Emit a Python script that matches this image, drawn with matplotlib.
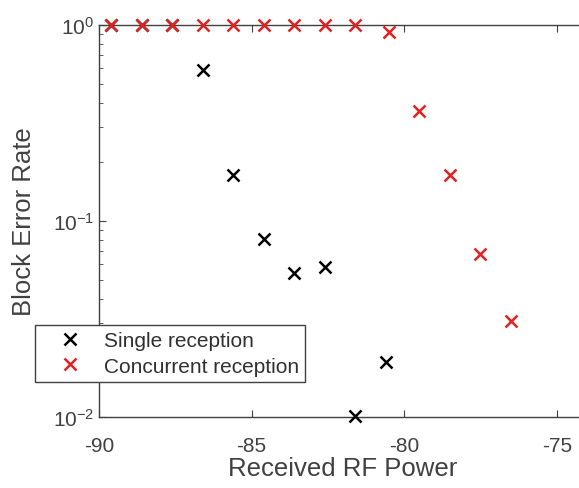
import numpy as np
import matplotlib.pyplot as plt

# Block error rate vs received power
power_single = [-89.6, -88.6, -87.6, -86.6, -85.6, -84.6, -83.6, -82.6, -81.6, -80.6]
bler_single = [1.0, 1.0, 1.0, 0.59, 0.172, 0.081, 0.054, 0.058, 0.0101, 0.019]

power_conc = [-89.6, -88.6, -87.6, -86.6, -85.6, -84.6, -83.6, -82.6, -81.6,
              -80.5, -79.5, -78.5, -77.5, -76.5]
bler_conc = [1.0, 1.0, 1.0, 1.0, 1.0, 1.0, 1.0, 1.0, 1.0,
             0.92, 0.364, 0.172, 0.068, 0.031]

xticks = [-90, -85, -80, -75]

plt.rcParams['font.family'] = ['Liberation Sans', 'DejaVu Sans']
txt = '#404040'

fig = plt.figure(figsize=(5.79, 4.89), dpi=100)
# axes runs past the right edge of the picture (cropped figure)
ax = fig.add_axes([0.171, 0.1452, 1.054, 0.8016])

ax.plot(power_single, bler_single, 'x', color='black', markersize=9, mew=1.8,
        label='Single reception', clip_on=False, zorder=4)
ax.plot(power_conc, bler_conc, 'x', color='#e02222', markersize=9, mew=1.8,
        label='Concurrent reception', clip_on=False, zorder=5)

ax.set_yscale('log')
ax.set_xlim(-90, -70)
ax.set_ylim(1e-2, 1e0)
ax.set_xticks(xticks)
ax.set_xticklabels([str(t) for t in xticks])

for s in ['left', 'top', 'bottom']:
    ax.spines[s].set_color('#404040')
    ax.spines[s].set_linewidth(1.0)
ax.spines['right'].set_visible(False)

ax.tick_params(which='both', direction='in', top=True, colors=txt,
               labelsize=15, labelcolor=txt)
ax.tick_params(which='major', length=5)
ax.tick_params(which='minor', length=3)
ax.tick_params(axis='x', which='minor', bottom=False, top=False)
ax.tick_params(axis='x', pad=14)

ax.set_xlabel('Received RF Power', fontsize=18.5, color=txt)
ax.xaxis.set_label_coords(0.4, -0.1)
ax.set_ylabel('Block Error Rate', fontsize=18.5, color=txt, labelpad=12)

leg = ax.legend(loc='lower left', bbox_to_anchor=(0.06, 0.217),
                bbox_transform=fig.transFigure, borderaxespad=0,
                fontsize=15, fancybox=False, framealpha=1,
                edgecolor='#404040', handlelength=2.76, handletextpad=0.25,
                borderpad=0.3, labelspacing=0.3)
for t in leg.get_texts():
    t.set_color('#303030')
leg.get_frame().set_linewidth(1.0)

plt.savefig('out.png', dpi=100)
